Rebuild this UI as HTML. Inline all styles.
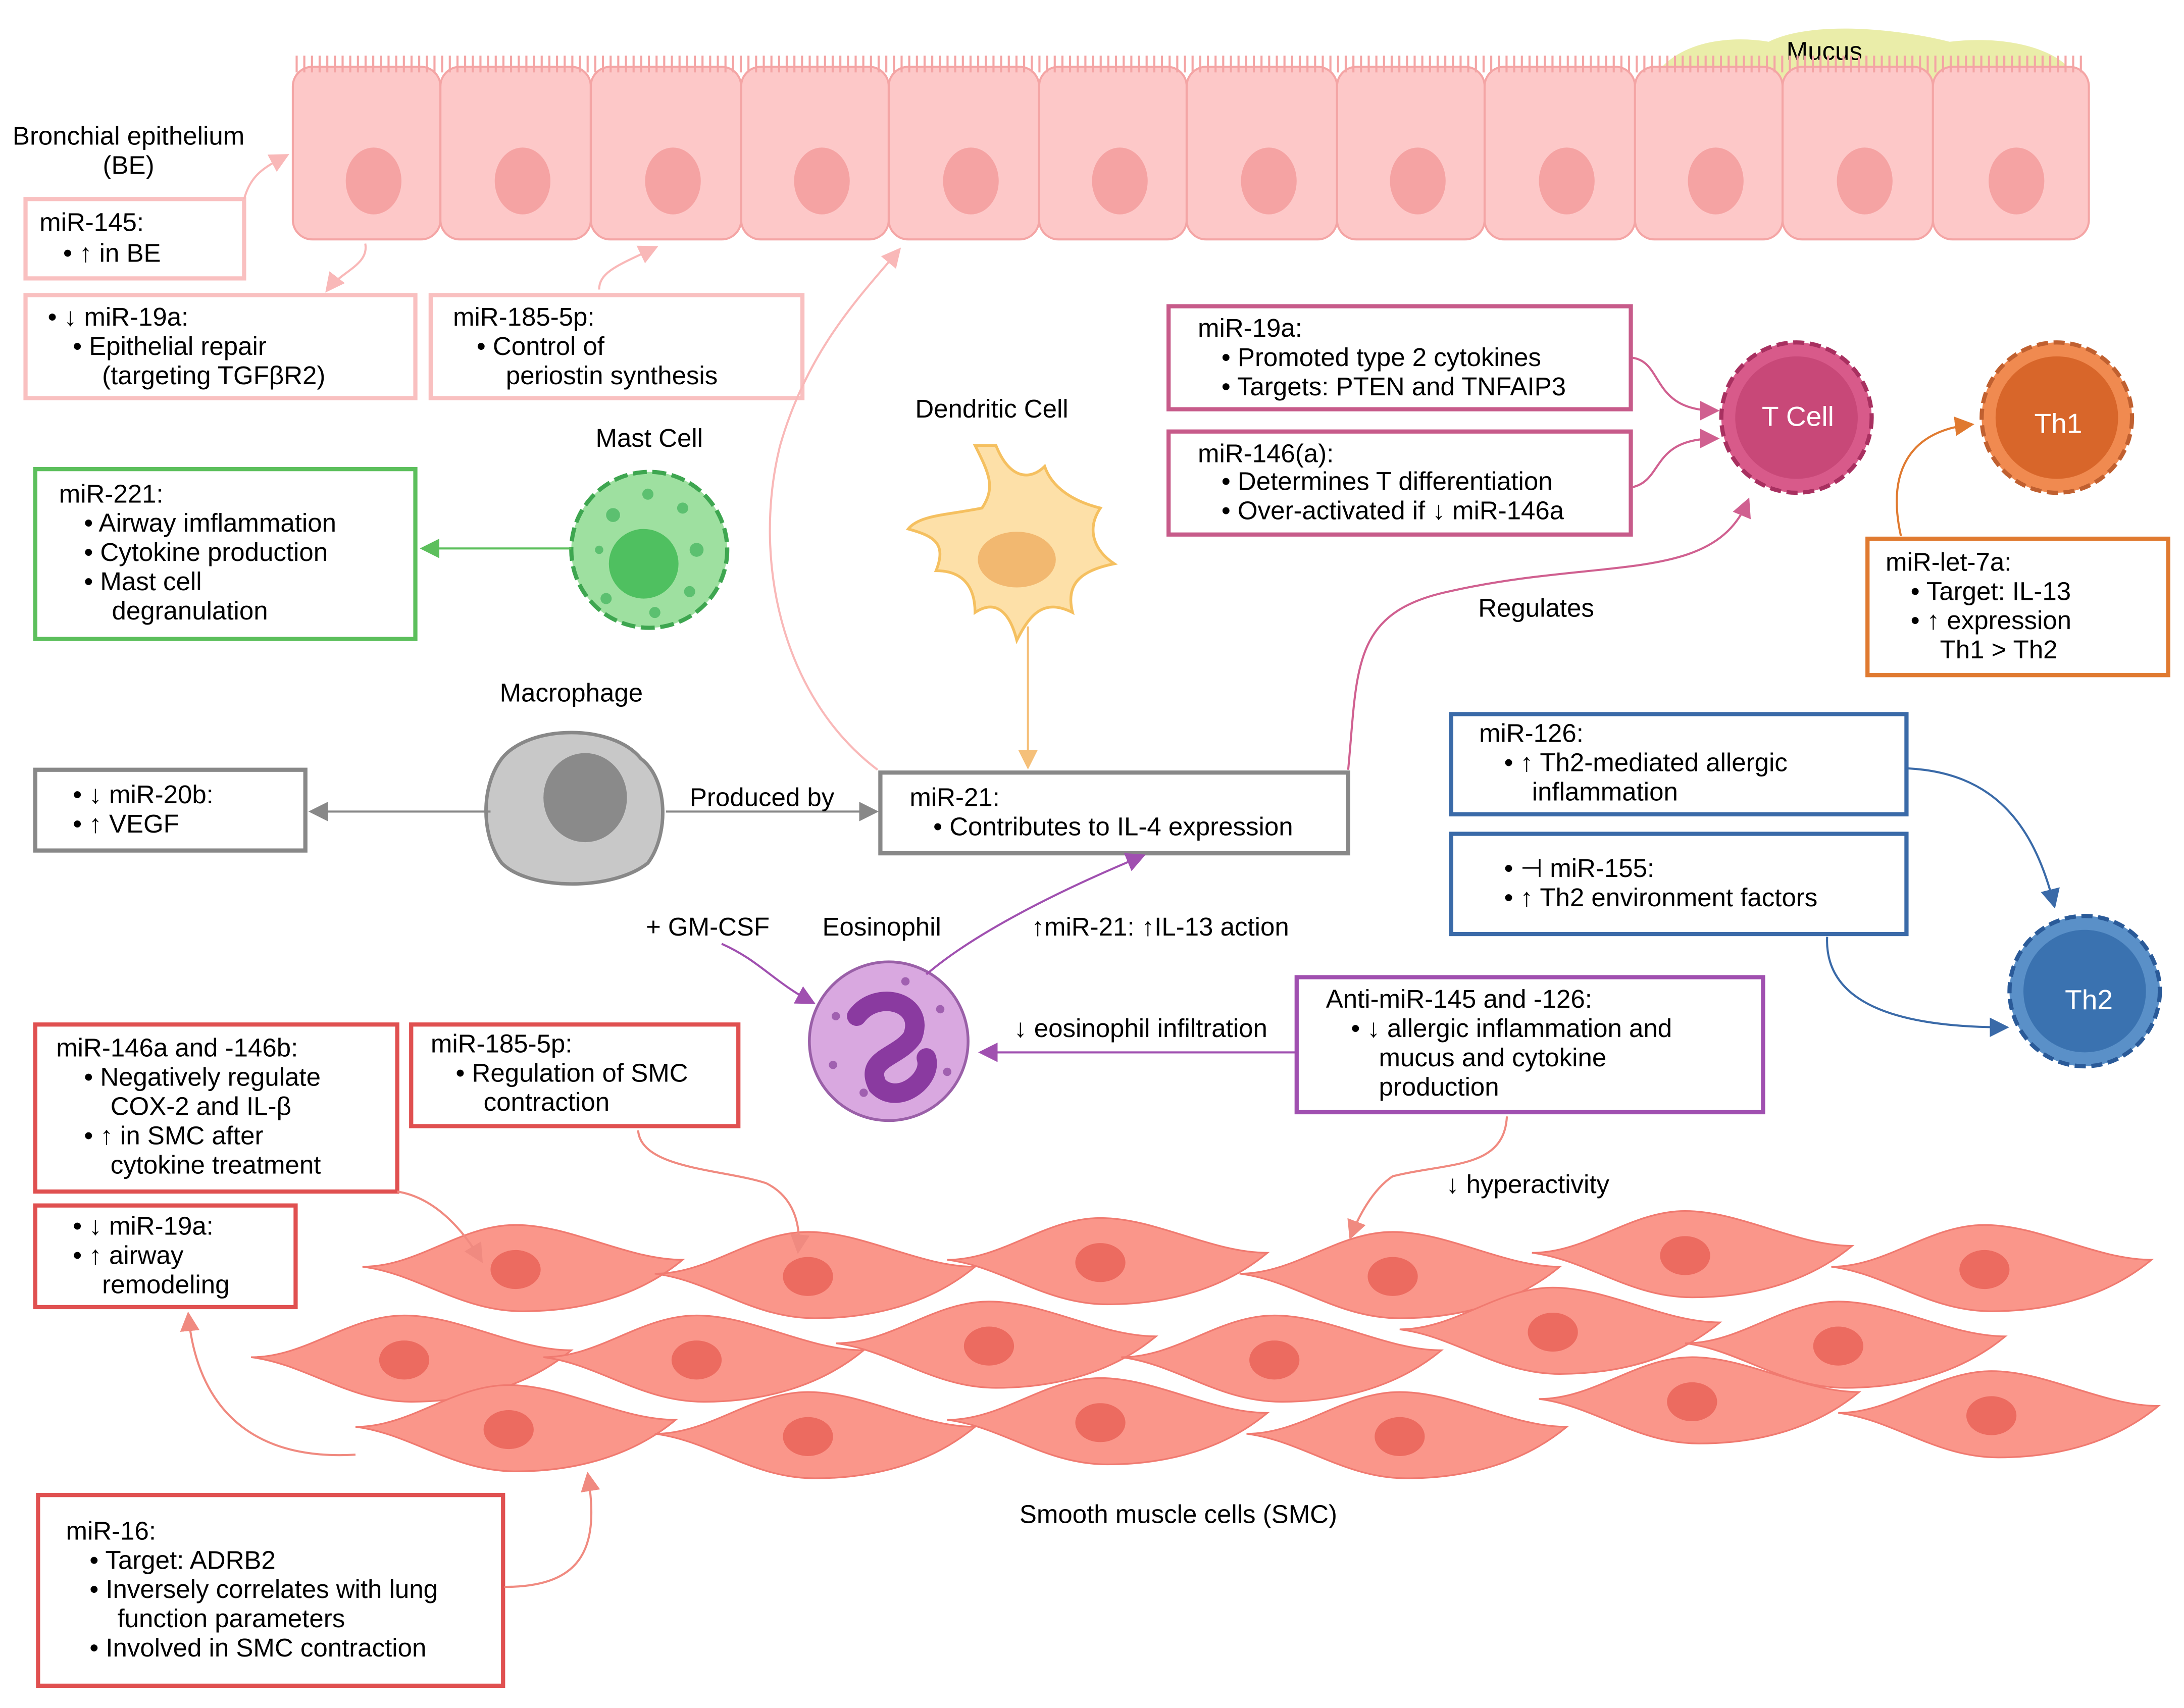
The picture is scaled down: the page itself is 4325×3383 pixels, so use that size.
<!DOCTYPE html>
<html><head><meta charset="utf-8"><style>html,body{margin:0;padding:0;background:#fff}svg{display:block}</style></head>
<body>
<svg width="4325" height="3383" viewBox="0 0 1568 1227" xmlns="http://www.w3.org/2000/svg" font-family="Liberation Sans, sans-serif" font-size="18.5">
<defs>
<marker id="ar" viewBox="0 0 10 10" markerWidth="14" markerHeight="14" refX="8" refY="5" orient="auto" markerUnits="userSpaceOnUse"><path d="M0,0L10,5L0,10z" fill="#f08a80"/></marker>
<marker id="ag" viewBox="0 0 10 10" markerWidth="14" markerHeight="14" refX="8" refY="5" orient="auto" markerUnits="userSpaceOnUse"><path d="M0,0L10,5L0,10z" fill="#5cbf5c"/></marker>
<marker id="agr" viewBox="0 0 10 10" markerWidth="14" markerHeight="14" refX="8" refY="5" orient="auto" markerUnits="userSpaceOnUse"><path d="M0,0L10,5L0,10z" fill="#888"/></marker>
<marker id="ay" viewBox="0 0 10 10" markerWidth="14" markerHeight="14" refX="8" refY="5" orient="auto" markerUnits="userSpaceOnUse"><path d="M0,0L10,5L0,10z" fill="#f5c07a"/></marker>
<marker id="am" viewBox="0 0 10 10" markerWidth="14" markerHeight="14" refX="8" refY="5" orient="auto" markerUnits="userSpaceOnUse"><path d="M0,0L10,5L0,10z" fill="#d06090"/></marker>
<marker id="ao" viewBox="0 0 10 10" markerWidth="14" markerHeight="14" refX="8" refY="5" orient="auto" markerUnits="userSpaceOnUse"><path d="M0,0L10,5L0,10z" fill="#e07a30"/></marker>
<marker id="ab" viewBox="0 0 10 10" markerWidth="14" markerHeight="14" refX="8" refY="5" orient="auto" markerUnits="userSpaceOnUse"><path d="M0,0L10,5L0,10z" fill="#3a6aa8"/></marker>
<marker id="au" viewBox="0 0 10 10" markerWidth="14" markerHeight="14" refX="8" refY="5" orient="auto" markerUnits="userSpaceOnUse"><path d="M0,0L10,5L0,10z" fill="#a050b0"/></marker>
<marker id="apk" viewBox="0 0 10 10" markerWidth="14" markerHeight="14" refX="8" refY="5" orient="auto" markerUnits="userSpaceOnUse"><path d="M0,0L10,5L0,10z" fill="#f9b8b8"/></marker>
<g id="smc"><path d="M0,30 C40,30 70,0 110,0 C150,0 190,25 230,25 C200,50 160,62 115,62 C70,62 40,35 0,30 Z" fill="#fa968a" stroke="#f07a70" stroke-width="1.2"/><ellipse cx="110" cy="32" rx="18" ry="14" fill="#ec6b60"/></g>
</defs>

<path d="M1185,60 C1200,30 1240,25 1270,30 C1300,15 1360,20 1400,30 C1440,25 1480,35 1490,55 C1450,65 1300,70 1185,60Z" fill="#e6ea9a" opacity="0.85"/>
<text x="1310" y="43" text-anchor="middle">Mucus</text>

<g fill="#fdc8c8" stroke="#f4a5a5" stroke-width="1.5">
<rect x="210" y="48" width="106" height="124" rx="14"/><rect x="316" y="48" width="108" height="124" rx="14"/>
<rect x="424" y="48" width="108" height="124" rx="14"/><rect x="532" y="48" width="106" height="124" rx="14"/>
<rect x="638" y="48" width="108" height="124" rx="14"/><rect x="746" y="48" width="106" height="124" rx="14"/>
<rect x="852" y="48" width="108" height="124" rx="14"/><rect x="960" y="48" width="106" height="124" rx="14"/>
<rect x="1066" y="48" width="108" height="124" rx="14"/><rect x="1174" y="48" width="106" height="124" rx="14"/>
<rect x="1280" y="48" width="108" height="124" rx="14"/><rect x="1388" y="48" width="112" height="124" rx="14"/>
</g>
<path d="M212,46 L1498,46" stroke="#f4a5a5" stroke-width="12" stroke-dasharray="1.5,4"/>
<g fill="#f5a3a3">
<ellipse cx="268" cy="130" rx="20" ry="24"/><ellipse cx="375" cy="130" rx="20" ry="24"/><ellipse cx="483" cy="130" rx="20" ry="24"/>
<ellipse cx="590" cy="130" rx="20" ry="24"/><ellipse cx="697" cy="130" rx="20" ry="24"/><ellipse cx="804" cy="130" rx="20" ry="24"/>
<ellipse cx="911" cy="130" rx="20" ry="24"/><ellipse cx="1018" cy="130" rx="20" ry="24"/><ellipse cx="1125" cy="130" rx="20" ry="24"/>
<ellipse cx="1232" cy="130" rx="20" ry="24"/><ellipse cx="1339" cy="130" rx="20" ry="24"/><ellipse cx="1448" cy="130" rx="20" ry="24"/>
</g>

<text x="92" y="104" text-anchor="middle">Bronchial epithelium</text>
<text x="92" y="125" text-anchor="middle">(BE)</text>

<g fill="none" stroke="#f9c0c0" stroke-width="3">
<rect x="18" y="143" width="157" height="57"/><rect x="18" y="212" width="280" height="74"/><rect x="309" y="212" width="267" height="74"/>
</g>
<text x="28" y="166">miR-145:</text><text x="45" y="188">•  ↑ in BE</text>
<text x="34" y="234">•  ↓ miR-19a:</text><text x="52" y="255">•  Epithelial repair</text><text x="73" y="276">(targeting TGFβR2)</text>
<text x="325" y="234">miR-185-5p:</text><text x="342" y="255">•  Control of</text><text x="363" y="276">periostin synthesis</text>

<g fill="none" stroke="#f9b8b8" stroke-width="1.5">
<path d="M175,143 C180,125 190,120 205,112" marker-end="url(#apk)"/>
<path d="M262,175 C265,190 245,195 235,208" marker-end="url(#apk)"/>
<path d="M430,208 C430,195 445,190 470,178" marker-end="url(#apk)"/>
<path d="M630,553 C560,500 540,400 560,320 C580,250 620,210 645,180" marker-end="url(#apk)"/>
</g>

<text x="466" y="321" text-anchor="middle">Mast Cell</text>
<circle cx="466" cy="395" r="56" fill="#9ee0a0" stroke="#3ea650" stroke-width="3" stroke-dasharray="10,4"/>
<circle cx="462" cy="405" r="25" fill="#4fc060"/>
<g fill="#5cc070"><circle cx="440" cy="370" r="5"/><circle cx="490" cy="365" r="4"/><circle cx="500" cy="395" r="5"/><circle cx="495" cy="425" r="4"/><circle cx="435" cy="430" r="4"/><circle cx="430" cy="395" r="3"/><circle cx="465" cy="355" r="4"/><circle cx="470" cy="440" r="4"/></g>
<rect x="25" y="337" width="273" height="122" fill="none" stroke="#5cbf5c" stroke-width="3"/>
<text x="42" y="361">miR-221:</text><text x="60" y="382">•  Airway imflammation</text><text x="60" y="403">•  Cytokine production</text><text x="60" y="424">•  Mast cell</text><text x="80" y="445">degranulation</text>
<line x1="410" y1="394" x2="304" y2="394" stroke="#5cbf5c" stroke-width="1.5" marker-end="url(#ag)"/>

<text x="410" y="504" text-anchor="middle">Macrophage</text>
<path d="M360,545 C380,520 440,520 460,545 C480,560 480,600 465,620 C440,640 380,640 360,620 C345,600 345,565 360,545Z" fill="#c8c8c8" stroke="#888" stroke-width="2.5"/>
<ellipse cx="420" cy="573" rx="30" ry="32" fill="#8a8a8a"/>
<rect x="25" y="553" width="194" height="58" fill="none" stroke="#888" stroke-width="3"/>
<text x="52" y="577">•  ↓ miR-20b:</text><text x="52" y="598">•  ↑ VEGF</text>
<line x1="352" y1="583" x2="224" y2="583" stroke="#888" stroke-width="1.5" marker-end="url(#agr)"/>
<line x1="478" y1="583" x2="628" y2="583" stroke="#888" stroke-width="1.5" marker-end="url(#agr)"/>
<text x="547" y="579" text-anchor="middle">Produced by</text>

<text x="712" y="300" text-anchor="middle">Dendritic Cell</text>
<path d="M700,320 C710,340 715,350 705,365 C680,370 660,370 652,380 C670,385 680,390 672,410 C690,410 700,420 700,440 C715,430 725,440 730,460 C740,440 750,430 770,440 C765,420 775,410 800,405 C785,395 780,380 790,365 C770,360 755,350 750,335 C740,345 725,345 715,320Z" fill="#fde0a8" stroke="#f5c060" stroke-width="2"/>
<ellipse cx="730" cy="402" rx="28" ry="20" fill="#f2b870"/>
<line x1="738" y1="450" x2="738" y2="550" stroke="#f5c07a" stroke-width="1.5" marker-end="url(#ay)"/>

<rect x="632" y="555" width="336" height="58" fill="none" stroke="#888" stroke-width="3"/>
<text x="653" y="579">miR-21:</text><text x="670" y="600">•  Contributes to IL-4 expression</text>

<g fill="none" stroke="#c75b8a" stroke-width="3">
<rect x="839" y="220" width="332" height="74"/><rect x="839" y="310" width="332" height="74"/></g>
<text x="860" y="242">miR-19a:</text><text x="877" y="263">•  Promoted type 2 cytokines</text><text x="877" y="284">•  Targets: PTEN and TNFAIP3</text>
<text x="860" y="332">miR-146(a):</text><text x="877" y="352">•  Determines T differentiation</text><text x="877" y="373">•  Over-activated if ↓ miR-146a</text>
<g fill="none" stroke="#d06090" stroke-width="1.5">
<path d="M1172,257 C1195,260 1185,295 1232,295" marker-end="url(#am)"/>
<path d="M1172,350 C1195,345 1185,315 1232,315" marker-end="url(#am)"/>
<path d="M968,553 C975,480 970,440 1040,425 C1150,400 1230,420 1255,360" marker-end="url(#am)"/>
</g>
<text x="1103" y="443" text-anchor="middle">Regulates</text>

<circle cx="1290" cy="300" r="54" fill="#d85a8a" stroke="#a83060" stroke-width="3" stroke-dasharray="8,4"/>
<circle cx="1290" cy="300" r="44" fill="#c84878"/>
<text x="1291" y="306" text-anchor="middle" fill="#fff" font-size="20">T Cell</text>
<circle cx="1477" cy="300" r="54" fill="#f08a50" stroke="#c06030" stroke-width="3" stroke-dasharray="8,4"/>
<circle cx="1477" cy="300" r="44" fill="#d8662a"/>
<text x="1478" y="311" text-anchor="middle" fill="#fff" font-size="20">Th1</text>
<path d="M1365,385 C1355,340 1370,310 1415,305" fill="none" stroke="#e07a30" stroke-width="1.5" marker-end="url(#ao)"/>
<rect x="1341" y="387" width="216" height="98" fill="none" stroke="#e07a30" stroke-width="3"/>
<text x="1354" y="410">miR-let-7a:</text><text x="1372" y="431">•  Target: IL-13</text><text x="1372" y="452">•  ↑ expression</text><text x="1393" y="473">Th1 &gt; Th2</text>

<g fill="none" stroke="#3a6aa8" stroke-width="3"><rect x="1042" y="513" width="327" height="72"/><rect x="1042" y="599" width="327" height="72"/></g>
<text x="1062" y="533">miR-126:</text><text x="1080" y="554">•  ↑ Th2-mediated allergic</text><text x="1100" y="575">inflammation</text>
<text x="1080" y="630">•  ⊣ miR-155:</text><text x="1080" y="651">•  ↑ Th2 environment factors</text>
<path d="M1370,552 C1430,555 1460,590 1475,650" fill="none" stroke="#3a6aa8" stroke-width="1.5" marker-end="url(#ab)"/>
<path d="M1312,673 C1310,720 1360,738 1440,738" fill="none" stroke="#3a6aa8" stroke-width="1.5" marker-end="url(#ab)"/>
<circle cx="1497" cy="712" r="54" fill="#5a90c8" stroke="#2a5a98" stroke-width="3" stroke-dasharray="8,4"/>
<circle cx="1497" cy="712" r="44" fill="#3a72b0"/>
<text x="1500" y="725" text-anchor="middle" fill="#fff" font-size="20">Th2</text>

<text x="633" y="672" text-anchor="middle">Eosinophil</text>
<text x="508" y="672" text-anchor="middle">+ GM-CSF</text>
<circle cx="638" cy="748" r="57" fill="#d9a8e0" stroke="#9a60a8" stroke-width="2"/>
<path d="M615,730 C630,710 665,720 655,745 C645,760 620,760 630,780 C645,795 670,775 665,760" fill="none" stroke="#8a3aa0" stroke-width="14" stroke-linecap="round"/>
<g fill="#a060b0"><circle cx="600" cy="730" r="3"/><circle cx="598" cy="765" r="3"/><circle cx="620" cy="785" r="3"/><circle cx="675" cy="725" r="3"/><circle cx="680" cy="770" r="3"/><circle cx="650" cy="705" r="3"/></g>
<path d="M518,678 C545,690 555,705 583,720" fill="none" stroke="#a050b0" stroke-width="1.5" marker-end="url(#au)"/>
<path d="M665,700 C700,670 760,640 820,615" fill="none" stroke="#a050b0" stroke-width="1.5" marker-end="url(#au)"/>
<text x="833" y="672" text-anchor="middle">↑miR-21: ↑IL-13 action</text>
<line x1="930" y1="756" x2="705" y2="756" stroke="#a050b0" stroke-width="1.5" marker-end="url(#au)"/>
<text x="819" y="745" text-anchor="middle">↓ eosinophil infiltration</text>
<rect x="931" y="702" width="335" height="97" fill="none" stroke="#a050b0" stroke-width="3"/>
<text x="952" y="724">Anti-miR-145 and -126:</text><text x="970" y="745">•  ↓ allergic inflammation and</text><text x="990" y="766">mucus and cytokine</text><text x="990" y="787">production</text>

<g fill="none" stroke="#e05050" stroke-width="3">
<rect x="25" y="736" width="260" height="120"/><rect x="295" y="736" width="235" height="73"/><rect x="25" y="866" width="187" height="73"/><rect x="27" y="1074" width="334" height="137"/></g>
<text x="40" y="759">miR-146a and -146b:</text><text x="60" y="780">•  Negatively regulate</text><text x="79" y="801">COX-2 and IL-β</text><text x="60" y="822">•  ↑ in SMC after</text><text x="79" y="843">cytokine treatment</text>
<text x="309" y="756">miR-185-5p:</text><text x="327" y="777">•  Regulation of SMC</text><text x="347" y="798">contraction</text>
<text x="52" y="887">•  ↓ miR-19a:</text><text x="52" y="908">•  ↑ airway</text><text x="73" y="929">remodeling</text>
<text x="47" y="1106">miR-16:</text><text x="64" y="1127">•  Target: ADRB2</text><text x="64" y="1148">•  Inversely correlates with lung</text><text x="84" y="1169">function parameters</text><text x="64" y="1190">•  Involved in SMC contraction</text>

<g transform="translate(260,880)"><use href="#smc"/></g>
<g transform="translate(470,885)"><use href="#smc"/></g>
<g transform="translate(680,875)"><use href="#smc"/></g>
<g transform="translate(890,885)"><use href="#smc"/></g>
<g transform="translate(1100,870)"><use href="#smc"/></g>
<g transform="translate(1315,880)"><use href="#smc"/></g>
<g transform="translate(180,945)"><use href="#smc"/></g>
<g transform="translate(390,945)"><use href="#smc"/></g>
<g transform="translate(600,935)"><use href="#smc"/></g>
<g transform="translate(805,945)"><use href="#smc"/></g>
<g transform="translate(1005,925)"><use href="#smc"/></g>
<g transform="translate(1210,935)"><use href="#smc"/></g>
<g transform="translate(255,995)"><use href="#smc"/></g>
<g transform="translate(470,1000)"><use href="#smc"/></g>
<g transform="translate(680,990)"><use href="#smc"/></g>
<g transform="translate(895,1000)"><use href="#smc"/></g>
<g transform="translate(1105,975)"><use href="#smc"/></g>
<g transform="translate(1320,985)"><use href="#smc"/></g>
<text x="846" y="1094" text-anchor="middle">Smooth muscle cells (SMC)</text>

<g fill="none" stroke="#f08a80" stroke-width="1.5">
<path d="M285,856 C310,860 330,880 345,905" marker-end="url(#ar)"/>
<path d="M458,812 C460,840 520,840 550,850 C570,860 575,880 573,898" marker-end="url(#ar)"/>
<path d="M1082,802 C1080,840 1040,835 1000,845 C985,855 975,875 970,888" marker-end="url(#ar)"/>
<path d="M255,1045 C170,1050 140,1000 135,945" marker-end="url(#ar)"/>
<path d="M362,1140 C420,1140 430,1110 422,1060" marker-end="url(#ar)"/>
</g>
<text x="1097" y="857" text-anchor="middle">↓ hyperactivity</text>
</svg>
</body></html>
